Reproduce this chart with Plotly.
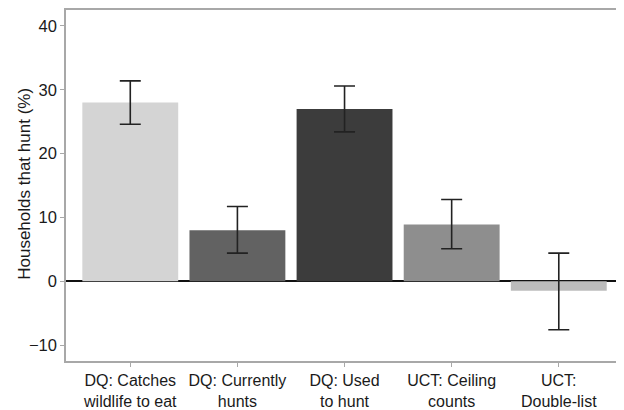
import plotly.graph_objects as go

categories = ["DQ: Catches<br>wildlife to eat", "DQ: Currently<br>hunts", "DQ: Used<br>to hunt",
              "UCT: Ceiling<br>counts", "UCT:<br>Double-list"]
values = [28.0, 8.0, 27.0, 8.9, -1.5]
err_upper = [31.4, 11.7, 30.6, 12.8, 4.4]
err_lower = [24.6, 4.4, 23.4, 5.1, -7.6]
colors = ["#d4d4d4", "#626262", "#3c3c3c", "#8e8e8e", "#bcbcbc"]
y_ticks = [-10, 0, 10, 20, 30, 40]
y_title = "Households that hunt (%)"

err_plus = [u - v for u, v in zip(err_upper, values)]
err_minus = [v - l for v, l in zip(values, err_lower)]

fig = go.Figure()
fig.add_trace(go.Bar(
    x=list(range(len(categories))), y=values,
    marker=dict(color=colors, line=dict(width=0)),
    width=0.895,
    error_y=dict(type="data", symmetric=False, array=err_plus, arrayminus=err_minus,
                 color="#222222", thickness=1.6, width=10.5),
))

fig.update_layout(
    width=616, height=402,
    margin=dict(l=58, r=2, t=2, b=49, autoexpand=False),
    paper_bgcolor="white", plot_bgcolor="white",
    font=dict(family="Liberation Sans, Arial, sans-serif", size=16, color="#1a1a1a"),
    showlegend=False,
    annotations=[dict(text=y_title, xref="paper", yref="paper", x=-0.0737, y=0.505,
                      xanchor="center", yanchor="middle", textangle=-90, showarrow=False,
                      font=dict(size=17, color="#1a1a1a"))],
)
fig.update_xaxes(
    tickmode="array", tickvals=list(range(len(categories))), ticktext=categories,
    range=[-0.6, 4.59], showline=True, mirror=True, linecolor="#a8a8a8", linewidth=1.5,
    ticks="outside", ticklen=4, tickcolor="#a8a8a8", showgrid=False, automargin=False,
    tickfont=dict(size=16),
)
fig.update_yaxes(
    range=[-12.5, 42.5], tickvals=y_ticks, showline=True, mirror=True,
    linecolor="#a8a8a8", linewidth=1.5, ticks="outside", ticklen=4, tickcolor="#a8a8a8",
    showgrid=False, zeroline=True, zerolinecolor="#111111", zerolinewidth=1.6,
    automargin=False, tickfont=dict(size=16.5),
)

fig.write_html("out.html")
